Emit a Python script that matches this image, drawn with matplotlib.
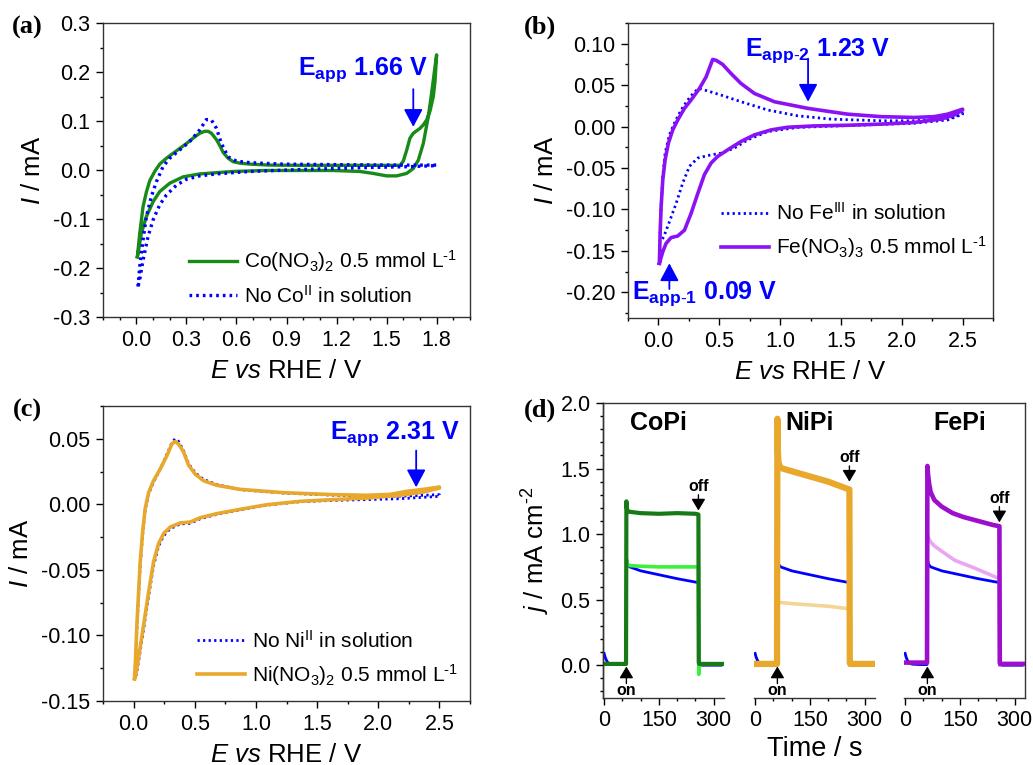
import numpy as np
import matplotlib
matplotlib.use('Agg')
import matplotlib.pyplot as plt
from matplotlib.ticker import MultipleLocator, FormatStrFormatter

plt.rcParams['font.family'] = 'Liberation Sans'
plt.rcParams['mathtext.fontset'] = 'custom'
plt.rcParams['mathtext.rm'] = 'Liberation Sans'
plt.rcParams['mathtext.it'] = 'Liberation Sans:italic'
plt.rcParams['mathtext.bf'] = 'Liberation Sans:bold'
plt.rcParams['axes.unicode_minus'] = False

# ---------------- (a) Co CVs ----------------
E_co_fwd = [0.006, 0.02, 0.04, 0.06, 0.08, 0.11, 0.14, 0.18, 0.22, 0.26, 0.30, 0.34, 0.38, 0.41, 0.43,
            0.45, 0.48, 0.50, 0.52, 0.55, 0.58, 0.62, 0.68, 0.80, 1.00, 1.20, 1.40, 1.58, 1.60, 1.62,
            1.64, 1.66, 1.68, 1.70, 1.72, 1.74, 1.76, 1.78, 1.79, 1.80]
I_co_fwd = [-0.177, -0.13, -0.075, -0.045, -0.022, -0.003, 0.012, 0.024, 0.034, 0.044, 0.054, 0.065, 0.075, 0.079, 0.079,
            0.075, 0.062, 0.050, 0.036, 0.024, 0.017, 0.014, 0.012, 0.010, 0.0095, 0.0095, 0.0095, 0.0095, 0.018, 0.040,
            0.065, 0.075, 0.080, 0.085, 0.092, 0.102, 0.120, 0.150, 0.180, 0.235]
E_co_rev = [1.80, 1.79, 1.77, 1.75, 1.72, 1.69, 1.66, 1.62, 1.56, 1.50, 1.42, 1.34, 1.18, 0.78, 0.58,
            0.38, 0.28, 0.20, 0.14, 0.10, 0.06, 0.03, 0.01, 0.006]
I_co_rev = [0.235, 0.21, 0.157, 0.109, 0.054, 0.020, 0.003, -0.007, -0.012, -0.012, -0.007, -0.003, -0.001, -0.001, -0.003,
            -0.008, -0.014, -0.027, -0.044, -0.065, -0.095, -0.129, -0.170, -0.177]

E_noco_fwd = [0.01, 0.02, 0.04, 0.06, 0.09, 0.12, 0.16, 0.20, 0.26, 0.32, 0.38, 0.42, 0.45, 0.48, 0.51,
              0.55, 0.60, 0.68, 0.88, 1.18, 1.58, 1.80]
I_noco_fwd = [-0.238, -0.197, -0.143, -0.095, -0.054, -0.024, 0.007, 0.024, 0.041, 0.058, 0.082, 0.103, 0.102, 0.085, 0.054,
              0.027, 0.018, 0.015, 0.012, 0.011, 0.010, 0.010]
E_noco_rev = [1.80, 1.66, 1.38, 0.98, 0.68, 0.48, 0.38, 0.30, 0.24, 0.18, 0.14, 0.10, 0.07, 0.04, 0.02, 0.01]
I_noco_rev = [0.009, 0.007, 0.005, 0.001, -0.003, -0.008, -0.012, -0.019, -0.031, -0.051, -0.071, -0.102, -0.136, -0.184, -0.224, -0.238]

# ---------------- (b) Fe CVs ----------------
E_fe_fwd = [0.008, 0.014, 0.022, 0.036, 0.055, 0.082, 0.118, 0.159, 0.214, 0.268, 0.337, 0.392, 0.446, 0.474, 0.528,
            0.597, 0.679, 0.789, 0.953, 1.227, 1.555, 1.829, 2.103, 2.267, 2.377, 2.459, 2.50]
I_fe_fwd = [-0.165, -0.129, -0.097, -0.064, -0.040, -0.020, -0.004, 0.008, 0.022, 0.032, 0.046, 0.060, 0.081, 0.080, 0.075,
            0.064, 0.052, 0.040, 0.030, 0.022, 0.015, 0.012, 0.011, 0.012, 0.015, 0.019, 0.021]
E_fe_rev = [2.50, 2.432, 2.322, 2.103, 1.829, 1.555, 1.281, 1.062, 0.926, 0.789, 0.679, 0.570, 0.487, 0.433, 0.378,
            0.323, 0.268, 0.214, 0.159, 0.104, 0.063, 0.036, 0.008]
I_fe_rev = [0.020, 0.014, 0.009, 0.005, 0.003, 0.0016, 0.0008, -0.0008, -0.004, -0.010, -0.018, -0.028, -0.036, -0.044, -0.058,
            -0.081, -0.105, -0.125, -0.132, -0.134, -0.141, -0.151, -0.165]

E_nofe_fwd = [0.014, 0.022, 0.036, 0.055, 0.090, 0.131, 0.186, 0.241, 0.296, 0.337, 0.405, 0.515, 0.679, 0.898, 1.145,
              1.418, 1.829, 2.103, 2.322, 2.432, 2.50]
I_nofe_fwd = [-0.129, -0.097, -0.060, -0.032, -0.010, 0.004, 0.020, 0.032, 0.042, 0.046, 0.043, 0.038, 0.030, 0.020, 0.013,
              0.009, 0.007, 0.007, 0.009, 0.012, 0.016]
E_nofe_rev = [2.50, 2.377, 2.103, 1.555, 1.145, 0.898, 0.734, 0.624, 0.515, 0.405, 0.323, 0.255, 0.200, 0.145, 0.090,
              0.049, 0.022]
I_nofe_rev = [0.015, 0.008, 0.004, 0.0012, -0.001, -0.006, -0.016, -0.026, -0.032, -0.035, -0.038, -0.048, -0.068, -0.093, -0.115,
              -0.131, -0.139]

# ---------------- (c) Ni CVs ----------------
E_ni_fwd = [0.008, 0.016, 0.027, 0.041, 0.054, 0.074, 0.095, 0.123, 0.163, 0.218, 0.272, 0.313, 0.340, 0.368, 0.408,
            0.449, 0.504, 0.572, 0.681, 0.871, 1.225, 1.634, 1.906, 2.097, 2.233, 2.369, 2.50]
I_ni_fwd = [-0.133, -0.118, -0.092, -0.067, -0.044, -0.021, -0.003, 0.009, 0.018, 0.027, 0.037, 0.046, 0.048, 0.046, 0.040,
            0.030, 0.023, 0.018, 0.0145, 0.0114, 0.0089, 0.0074, 0.0069, 0.0076, 0.0099, 0.0114, 0.0132]
E_ni_rev = [2.50, 2.369, 2.179, 1.906, 1.634, 1.362, 1.089, 0.871, 0.681, 0.545, 0.463, 0.381, 0.300, 0.245, 0.204,
            0.163, 0.123, 0.082, 0.049, 0.022, 0.008]
I_ni_rev = [0.0124, 0.0094, 0.0069, 0.0048, 0.0036, 0.0023, -0.0003, -0.0038, -0.0071, -0.0102, -0.0135, -0.0142, -0.0173, -0.0223, -0.030,
            -0.044, -0.067, -0.092, -0.112, -0.128, -0.133]

E_noni_fwd = [0.008, 0.016, 0.027, 0.041, 0.054, 0.074, 0.095, 0.123, 0.163, 0.218, 0.272, 0.313, 0.340, 0.368, 0.408,
              0.449, 0.504, 0.572, 0.681, 0.871, 1.225, 1.634, 1.906, 2.179, 2.50]
I_noni_fwd = [-0.133, -0.120, -0.095, -0.070, -0.047, -0.023, -0.004, 0.008, 0.017, 0.027, 0.038, 0.047, 0.050, 0.048, 0.041,
              0.031, 0.024, 0.019, 0.015, 0.0112, 0.0086, 0.0070, 0.0063, 0.0062, 0.0074]
E_noni_rev = [2.50, 2.179, 1.906, 1.634, 1.362, 1.089, 0.871, 0.681, 0.545, 0.463, 0.381, 0.300, 0.245, 0.204,
              0.163, 0.123, 0.082, 0.049, 0.022, 0.008]
I_noni_rev = [0.0061, 0.0043, 0.0036, 0.0030, 0.0020, -0.0006, -0.0042, -0.0076, -0.0110, -0.0145, -0.0150, -0.0185, -0.0240, -0.032,
              -0.047, -0.070, -0.095, -0.115, -0.130, -0.133]

# ---------------- (d) chronoamperometry ----------------
t_blank = [0, 3, 6, 10, 15, 20, 40, 60, 61, 64, 70, 100, 150, 200, 258, 259, 320]
j_blank = [0.09, 0.06, 0.04, 0.02, 0.012, 0.008, 0.005, 0.005, 0.81, 0.77, 0.75, 0.72, 0.69, 0.66, 0.63, 0.0, 0.0]

t_copi = [0, 60, 61, 62, 64, 70, 100, 150, 200, 250, 258, 259, 260, 325]
j_copi = [0.01, 0.01, 1.25, 1.20, 1.18, 1.17, 1.16, 1.155, 1.16, 1.155, 1.15, 0.02, 0.01, 0.01]
t_copi_sol = [62, 64, 70, 100, 150, 200, 258, 259, 260, 262]
j_copi_sol = [0.80, 0.77, 0.76, 0.755, 0.75, 0.75, 0.75, -0.07, -0.02, 0.0]

t_nipi = [0, 60, 61, 62, 64, 68, 75, 100, 150, 200, 258, 259, 260, 325]
j_nipi = [0.01, 0.01, 1.88, 1.65, 1.55, 1.51, 1.50, 1.48, 1.44, 1.40, 1.34, 0.02, 0.01, 0.01]
t_nipi_sol = [0, 60, 62, 64, 100, 150, 200, 258, 259]
j_nipi_sol = [0.0, 0.0, 0.49, 0.48, 0.47, 0.46, 0.45, 0.43, 0.0]

t_fepi = [0, 60, 61, 63, 66, 70, 80, 100, 130, 160, 200, 240, 258, 259, 260, 325]
j_fepi = [0.02, 0.02, 1.52, 1.45, 1.38, 1.32, 1.26, 1.21, 1.16, 1.13, 1.10, 1.07, 1.06, 0.02, 0.01, 0.01]
t_fepi_sol = [62, 64, 70, 80, 100, 136, 191, 258, 259]
j_fepi_sol = [0.99, 0.97, 0.94, 0.91, 0.87, 0.80, 0.74, 0.66, 0.0]

BLUE = '#0000ff'
W, H = 1033, 765


def px_axes(fig, l, t, r, b):
    return fig.add_axes([l / W, 1 - b / H, (r - l) / W, (b - t) / H])


def style(ax, xmaj, xmin, ymaj, ymin, xfmt, yfmt):
    ax.xaxis.set_major_locator(MultipleLocator(xmaj))
    ax.xaxis.set_minor_locator(MultipleLocator(xmin))
    ax.yaxis.set_major_locator(MultipleLocator(ymaj))
    ax.yaxis.set_minor_locator(MultipleLocator(ymin))
    ax.xaxis.set_major_formatter(FormatStrFormatter(xfmt))
    ax.yaxis.set_major_formatter(FormatStrFormatter(yfmt))
    ax.tick_params(which='major', direction='out', length=5, width=1, labelsize=15.5, pad=4)
    ax.tick_params(which='minor', direction='out', length=2.5, width=1)
    for s in ax.spines.values():
        s.set_linewidth(1.0)
        s.set_color('#333333')


def blue_arrow(ax, x, y_from, y_to):
    ax.annotate('', xy=(x, y_to), xytext=(x, y_from),
                arrowprops=dict(arrowstyle='-|>,head_length=0.6,head_width=0.32', color=BLUE, lw=1.3,
                                mutation_scale=18, shrinkA=0, shrinkB=0))


XLAB = r'$\mathit{E\ vs}$ RHE / V'
YLAB = r'$\mathit{I}$ / mA'
LAB_KW = dict(fontsize=18.5)
LEG_KW = dict(loc='lower left', frameon=False, fontsize=15, handlelength=2.3, handletextpad=0.35,
              labelspacing=0.5, borderpad=0, borderaxespad=0)
ANN_KW = dict(color=BLUE, fontsize=18, fontweight='bold', ha='center', va='center')
PANEL_KW = dict(family='Liberation Serif', fontweight='bold', fontsize=19, ha='center', va='center')
MINUS1 = r'$^{\text{-}1}$'

fig = plt.figure(figsize=(W / 100, H / 100), dpi=100)

# (a)
ax = px_axes(fig, 103, 23, 470, 317)
ax.plot(E_co_fwd + E_co_rev, I_co_fwd + I_co_rev, color='#178a17', lw=2.4,
        label=r'Co(NO$_3$)$_2$ 0.5 mmol L' + MINUS1)
ax.plot(E_noco_fwd + E_noco_rev, I_noco_fwd + I_noco_rev, color=BLUE, lw=2.4, ls=(0, (0.8, 1.2)),
        label=r'No Co$^{\rm II}$ in solution')
ax.set_xlim(-0.2, 2.0)
ax.set_ylim(-0.3, 0.3)
style(ax, 0.3, 0.1, 0.1, 0.05, '%.1f', '%.1f')
ax.set_xlabel(XLAB, labelpad=6, **LAB_KW)
ax.set_ylabel(YLAB, labelpad=6, **LAB_KW)
ax.legend(bbox_to_anchor=(0.235, 0.035), **LEG_KW)
blue_arrow(ax, 1.66, 0.165, 0.088)
ax.text(1.36, 0.205, r'E$_{\mathbf{app}}$ 1.66 V', **ANN_KW)
fig.text(27 / W, 1 - 27 / H, '(a)', **PANEL_KW)

# (b)
ax = px_axes(fig, 628, 23, 993, 318)
ax.plot(E_nofe_fwd + E_nofe_rev, I_nofe_fwd + I_nofe_rev, color=BLUE, lw=2.0, ls=(0, (0.8, 1.2)),
        label=r'No Fe$^{\rm III}$ in solution')
ax.plot(E_fe_fwd + E_fe_rev, I_fe_fwd + I_fe_rev, color='#8a12f5', lw=2.6,
        label=r'Fe(NO$_3$)$_3$ 0.5 mmol L' + MINUS1)
ax.set_xlim(-0.25, 2.75)
ax.set_ylim(-0.231, 0.125)
style(ax, 0.5, 0.25, 0.05, 0.025, '%.1f', '%.2f')
ax.set_xlabel(XLAB, labelpad=6, **LAB_KW)
ax.set_ylabel(YLAB, labelpad=6, **LAB_KW)
ax.legend(bbox_to_anchor=(0.255, 0.195), **LEG_KW)
blue_arrow(ax, 1.23, 0.082, 0.030)
ax.text(1.31, 0.092, r'E$_{\mathbf{app}\text{-}\mathbf{2}}$ 1.23 V', **ANN_KW)
blue_arrow(ax, 0.09, -0.196, -0.165)
ax.text(0.38, -0.202, r'E$_{\mathbf{app}\text{-}\mathbf{1}}$ 0.09 V', **ANN_KW)
fig.text(540 / W, 1 - 27 / H, '(b)', **PANEL_KW)

# (c)
ax = px_axes(fig, 103, 406, 470, 701)
ax.plot(E_noni_fwd + E_noni_rev, I_noni_fwd + I_noni_rev, color=BLUE, lw=2.0, ls=(0, (0.8, 1.2)),
        label=r'No Ni$^{\rm II}$ in solution')
ax.plot(E_ni_fwd + E_ni_rev, I_ni_fwd + I_ni_rev, color='#e8a82c', lw=2.6,
        label=r'Ni(NO$_3$)$_2$ 0.5 mmol L' + MINUS1)
ax.set_xlim(-0.25, 2.75)
ax.set_ylim(-0.15, 0.075)
style(ax, 0.5, 0.25, 0.05, 0.025, '%.1f', '%.2f')
ax.set_xlabel(XLAB, labelpad=6, **LAB_KW)
ax.set_ylabel(YLAB, labelpad=6, **LAB_KW)
ax.legend(bbox_to_anchor=(0.255, 0.045), **LEG_KW)
blue_arrow(ax, 2.31, 0.041, 0.013)
ax.text(2.14, 0.054, r'E$_{\mathbf{app}}$ 2.31 V', **ANN_KW)
fig.text(27 / W, 1 - 410 / H, '(c)', **PANEL_KW)

# (d)
frame = px_axes(fig, 603, 403, 1025, 698)
frame.set_xticks([])
frame.set_yticks([])
frame.patch.set_alpha(0)
frame.spines['bottom'].set_visible(False)
for s in frame.spines.values():
    s.set_linewidth(1.0)
    s.set_color('#333333')

cols = [(603, 724), (754, 875), (904, 1025)]
panels = [
    ('CoPi', t_copi, j_copi, '#177a17', 3.0, t_copi_sol, j_copi_sol, '#3cf03c', 1.30, 1.18),
    ('NiPi', t_nipi, j_nipi, '#e8a82c', 4.5, t_nipi_sol, j_nipi_sol, '#f3d596', 1.52, 1.40),
    ('FePi', t_fepi, j_fepi, '#9c0fcc', 3.3, t_fepi_sol, j_fepi_sol, '#eaa6f2', 1.21, 1.09),
]
for i, ((l, r), (name, t, j, c, lw, ts, js, cs, off_top, off_bot)) in enumerate(zip(cols, panels)):
    a = px_axes(fig, l, 403, r, 698)
    a.patch.set_alpha(0)
    a.plot(t_blank, j_blank, color=BLUE, lw=2.0)
    a.plot(ts, js, color=cs, lw=2.6)
    a.plot(t, j, color=c, lw=lw)
    a.set_xlim(-3, 328)
    a.set_ylim(-0.25, 2.0)
    style(a, 150, 50, 0.5, 0.1, '%d', '%.1f')
    a.spines['top'].set_visible(False)
    a.spines['right'].set_visible(False)
    if i > 0:
        a.spines['left'].set_visible(False)
        a.tick_params(axis='y', which='both', left=False, labelleft=False)
    else:
        a.set_ylabel(r'$\mathit{j}$ / mA cm$^{\text{-}2}$', labelpad=6, **LAB_KW)
    if i == 1:
        a.set_xlabel('Time / s', labelpad=3, fontsize=19.5)
    a.text(150, 1.85, name, fontsize=18, fontweight='bold', ha='center', va='center')
    a.annotate('', xy=(61, -0.01), xytext=(61, -0.14),
               arrowprops=dict(arrowstyle='-|>,head_length=0.5,head_width=0.3', color='k', lw=1.0,
                               mutation_scale=14, shrinkA=0, shrinkB=0))
    a.text(61, -0.19, 'on', fontsize=11.5, fontweight='bold', ha='center', va='center')
    a.annotate('', xy=(258, off_bot), xytext=(258, off_top),
               arrowprops=dict(arrowstyle='-|>,head_length=0.5,head_width=0.3', color='k', lw=1.0,
                               mutation_scale=14, shrinkA=0, shrinkB=0))
    a.text(258, off_top + 0.065, 'off', fontsize=11.5, fontweight='bold', ha='center', va='center')

fig.text(540 / W, 1 - 410 / H, '(d)', **PANEL_KW)

fig.savefig('out.png', dpi=100)
